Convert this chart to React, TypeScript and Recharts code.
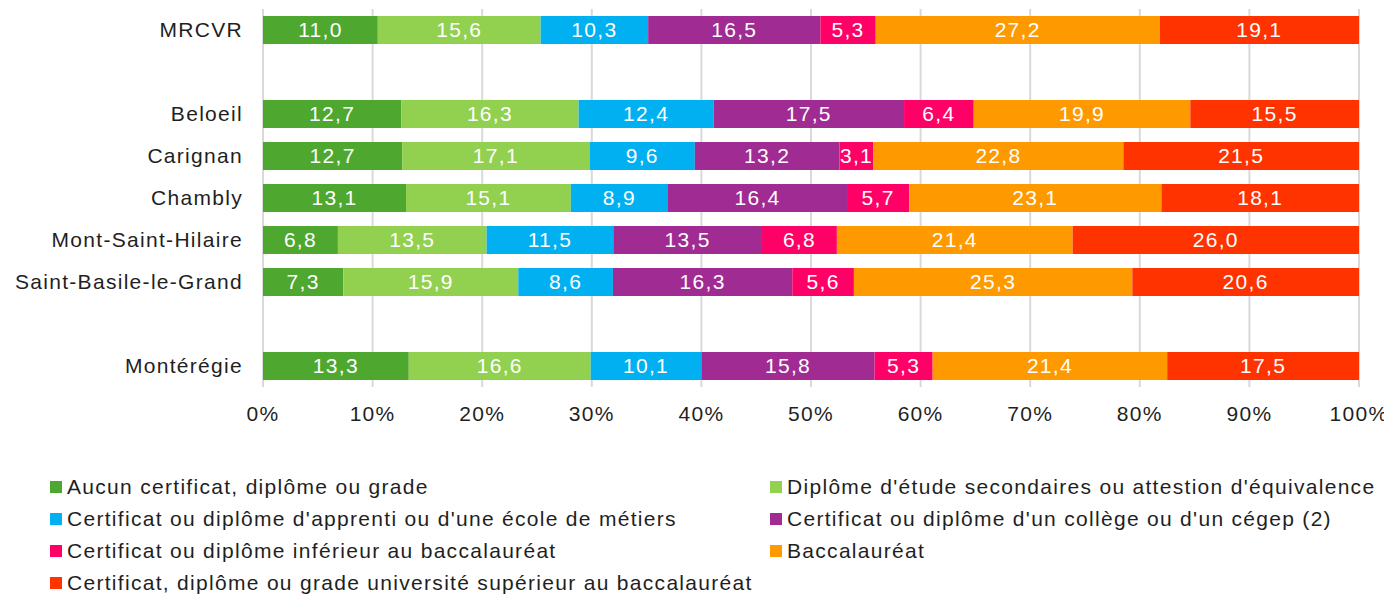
import { BarChart, Bar, XAxis, YAxis, CartesianGrid, LabelList } from "recharts"

const categories = ["MRCVR", "", "Beloeil", "Carignan", "Chambly", "Mont-Saint-Hilaire", "Saint-Basile-le-Grand", " ", "Montérégie"]

const aucun = [11.0, null, 12.7, 12.7, 13.1, 6.8, 7.3, null, 13.3]
const secondaire = [15.6, null, 16.3, 17.1, 15.1, 13.5, 15.9, null, 16.6]
const apprenti = [10.3, null, 12.4, 9.6, 8.9, 11.5, 8.6, null, 10.1]
const college = [16.5, null, 17.5, 13.2, 16.4, 13.5, 16.3, null, 15.8]
const inferieur = [5.3, null, 6.4, 3.1, 5.7, 6.8, 5.6, null, 5.3]
const bac = [27.2, null, 19.9, 22.8, 23.1, 21.4, 25.3, null, 21.4]
const superieur = [19.1, null, 15.5, 21.5, 18.1, 26.0, 20.6, null, 17.5]

const xTicks = [0, 0.1, 0.2, 0.3, 0.4, 0.5, 0.6, 0.7, 0.8, 0.9, 1]

const series = [
  { key: "aucun", name: "Aucun certificat, diplôme ou grade", color: "#4EA72E", values: aucun },
  { key: "secondaire", name: "Diplôme d'étude secondaires ou attestion d'équivalence", color: "#92D050", values: secondaire },
  { key: "apprenti", name: "Certificat ou diplôme d'apprenti ou d'une école de métiers", color: "#00B0F0", values: apprenti },
  { key: "college", name: "Certificat ou diplôme d'un collège ou d'un cégep (2)", color: "#A02B93", values: college },
  { key: "inferieur", name: "Certificat ou diplôme inférieur au baccalauréat", color: "#FF0066", values: inferieur },
  { key: "bac", name: "Baccalauréat", color: "#FF9900", values: bac },
  { key: "superieur", name: "Certificat, diplôme ou grade université supérieur au baccalauréat", color: "#FF3300", values: superieur },
]

const data = categories.map((name, i) => {
  const row: Record<string, string | number | null> = { name }
  series.forEach((s) => {
    row[s.key] = s.values[i]
  })
  return row
})

const FONT = "'Liberation Sans', Arial, sans-serif"
const textStyle = { fontFamily: FONT, fontSize: 21, letterSpacing: 1.3 }

// 11.0 -> "11,0"
const fmt = (v: any) => (v == null ? "" : Number(v).toFixed(1).replace(".", ","))

export default function App() {
  return (
    <div style={{ width: 1384, fontFamily: FONT }}>
      <BarChart
        width={1384}
        height={440}
        data={data}
        layout="vertical"
        stackOffset="expand"
        barCategoryGap={7}
        margin={{ top: 1, right: 33, bottom: 0, left: 0 }}
        style={{ overflow: "visible" }}
      >
        <CartesianGrid vertical horizontal={false} stroke="#d9d9d9" strokeWidth={2} />
        <XAxis
          type="number"
          domain={[0, 1]}
          ticks={xTicks}
          tickFormatter={(v) => `${Math.round(v * 100)}%`}
          axisLine={false}
          tickLine={false}
          tickSize={0}
          tickMargin={19}
          height={61}
          tick={{ ...textStyle, fill: "#1f1f1f" }}
          interval={0}
        />
        <YAxis
          type="category"
          dataKey="name"
          width={255}
          axisLine={false}
          tickLine={false}
          tickSize={0}
          tickMargin={20}
          tick={{ ...textStyle, fill: "#1f1f1f" }}
          interval={0}
        />
        {series.map((s) => (
          <Bar key={s.key} dataKey={s.key} name={s.name} stackId="a" fill={s.color} isAnimationActive={false}>
            <LabelList
              dataKey={s.key}
              position="center"
              formatter={fmt}
              fill="#ffffff"
              stroke="none"
              fontFamily={FONT}
              fontSize={21}
              letterSpacing={1.3}
            />
          </Bar>
        ))}
      </BarChart>
      <div
        style={{
          display: "grid",
          gridTemplateColumns: "720px 640px",
          marginTop: 23,
          paddingLeft: 42,
          fontSize: 21,
          letterSpacing: 1.3,
          color: "#1f1f1f",
        }}
      >
        {series.map((s) => (
          <div key={s.key} style={{ display: "flex", alignItems: "center", height: 32, whiteSpace: "nowrap" }}>
            <span style={{ width: 12, height: 12, background: s.color, marginRight: 5, flex: "none" }} />
            {s.name}
          </div>
        ))}
      </div>
    </div>
  )
}
